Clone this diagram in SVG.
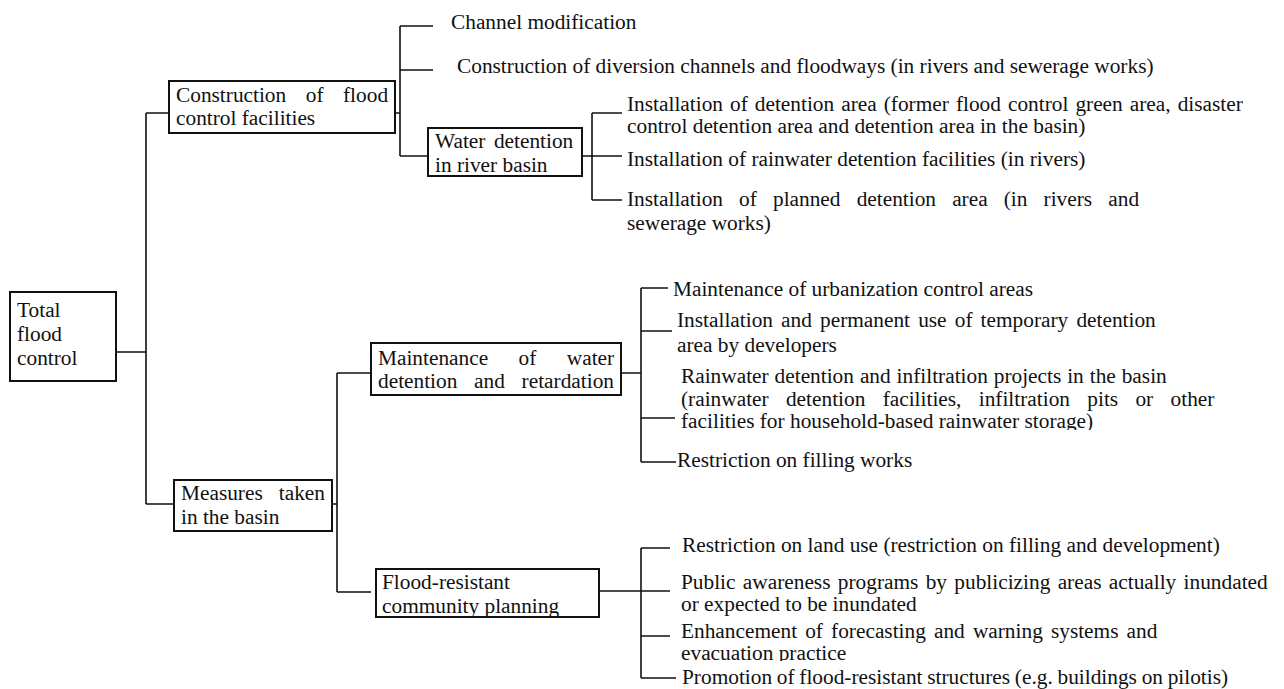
<svg xmlns="http://www.w3.org/2000/svg" width="1284" height="689" viewBox="0 0 1284 689">
<style>
text{font-family:"Liberation Serif","Times New Roman",serif;font-size:21.33px;fill:#111}
.box{fill:#fff;stroke:#111;stroke-width:2}
.ln{fill:none;stroke:#111;stroke-width:1.6}
</style>
<defs>
<clipPath id="c1"><rect x="600" y="380" width="684" height="50"/></clipPath>
<clipPath id="c2"><rect x="377" y="570" width="221" height="46"/></clipPath>
<clipPath id="c3"><rect x="600" y="640" width="684" height="21"/></clipPath>
</defs>
<rect width="1284" height="689" fill="#fff"/>
<g id="connectors" class="ln">
<path d="M116 352H146M146 113V504M146 113H169M146 504H174"/>
<path d="M395 113H400M400 26V156M400 26H433M400 70H433M400 156H428"/>
<path d="M582 156H622M592 113V200M592 113H622M592 200H622"/>
<path d="M332 504H337M337 373V592M337 373H371M337 592H371"/>
<path d="M621 373H641M641 288V462M641 288H668M641 331H672M641 418H675M641 462H676"/>
<path d="M599 591H641M641 548V678M641 548H670M641 591H670M641 636H670M641 678H676"/>
</g>
<g id="total">
<rect class="box" x="10" y="292" width="106" height="89"/>
<text x="17" y="317">Total</text>
<text x="17" y="341">flood</text>
<text x="17" y="365">control</text>
</g>
<g id="construction">
<rect class="box" x="169" y="81" width="226" height="52"/>
<text x="176" y="102" word-spacing="14.2">Construction of flood</text>
<text x="176" y="125">control facilities</text>
</g>
<g id="water-detention">
<rect class="box" x="428" y="128" width="154" height="48"/>
<text x="435" y="148" word-spacing="3.2">Water detention</text>
<text x="435" y="172">in river basin</text>
</g>
<g id="measures">
<rect class="box" x="174" y="480" width="158" height="51"/>
<text x="181" y="500" word-spacing="10.7">Measures taken</text>
<text x="181" y="524">in the basin</text>
</g>
<g id="maintenance">
<rect class="box" x="371" y="343" width="250" height="52"/>
<text x="378" y="365" word-spacing="25.1">Maintenance of water</text>
<text x="378" y="388" word-spacing="11.4">detention and retardation</text>
</g>
<g id="flood-resistant">
<rect class="box" x="376" y="569" width="223" height="48"/>
<text x="382" y="589">Flood-resistant</text>
<text x="382" y="613" clip-path="url(#c2)">community planning</text>
</g>
<g id="channel-modification"><text x="451" y="29">Channel modification</text></g>
<g id="diversion"><text x="457" y="73">Construction of diversion channels and floodways (in rivers and sewerage works)</text></g>
<g id="detention-area">
<text x="627" y="111" word-spacing="1.7">Installation of detention area (former flood control green area, disaster</text>
<text x="627" y="133">control detention area and detention area in the basin)</text>
</g>
<g id="rainwater-facilities"><text x="627" y="166">Installation of rainwater detention facilities (in rivers)</text></g>
<g id="planned-detention">
<text x="627" y="206" word-spacing="10.8">Installation of planned detention area (in rivers and</text>
<text x="627" y="230">sewerage works)</text>
</g>
<g id="urbanization"><text x="673" y="296">Maintenance of urbanization control areas</text></g>
<g id="temporary-detention">
<text x="677" y="327" word-spacing="2.8">Installation and permanent use of temporary detention</text>
<text x="677" y="352">area by developers</text>
</g>
<g id="infiltration">
<text x="681" y="383" word-spacing="0.6">Rainwater detention and infiltration projects in the basin</text>
<text x="681" y="406" word-spacing="12">(rainwater detention facilities, infiltration pits or other</text>
<text x="681" y="428" clip-path="url(#c1)">facilities for household-based rainwater storage)</text>
</g>
<g id="filling-works"><text x="677" y="467">Restriction on filling works</text></g>
<g id="land-use"><text x="682" y="552">Restriction on land use (restriction on filling and development)</text></g>
<g id="public-awareness">
<text x="681" y="589" word-spacing="2">Public awareness programs by publicizing areas actually inundated</text>
<text x="681" y="611">or expected to be inundated</text>
</g>
<g id="forecasting">
<text x="681" y="638" word-spacing="2.8">Enhancement of forecasting and warning systems and</text>
<text x="681" y="660" clip-path="url(#c3)">evacuation practice</text>
</g>
<g id="pilotis"><text x="682" y="684" word-spacing="-0.6">Promotion of flood-resistant structures (e.g. buildings on pilotis)</text></g>
</svg>
